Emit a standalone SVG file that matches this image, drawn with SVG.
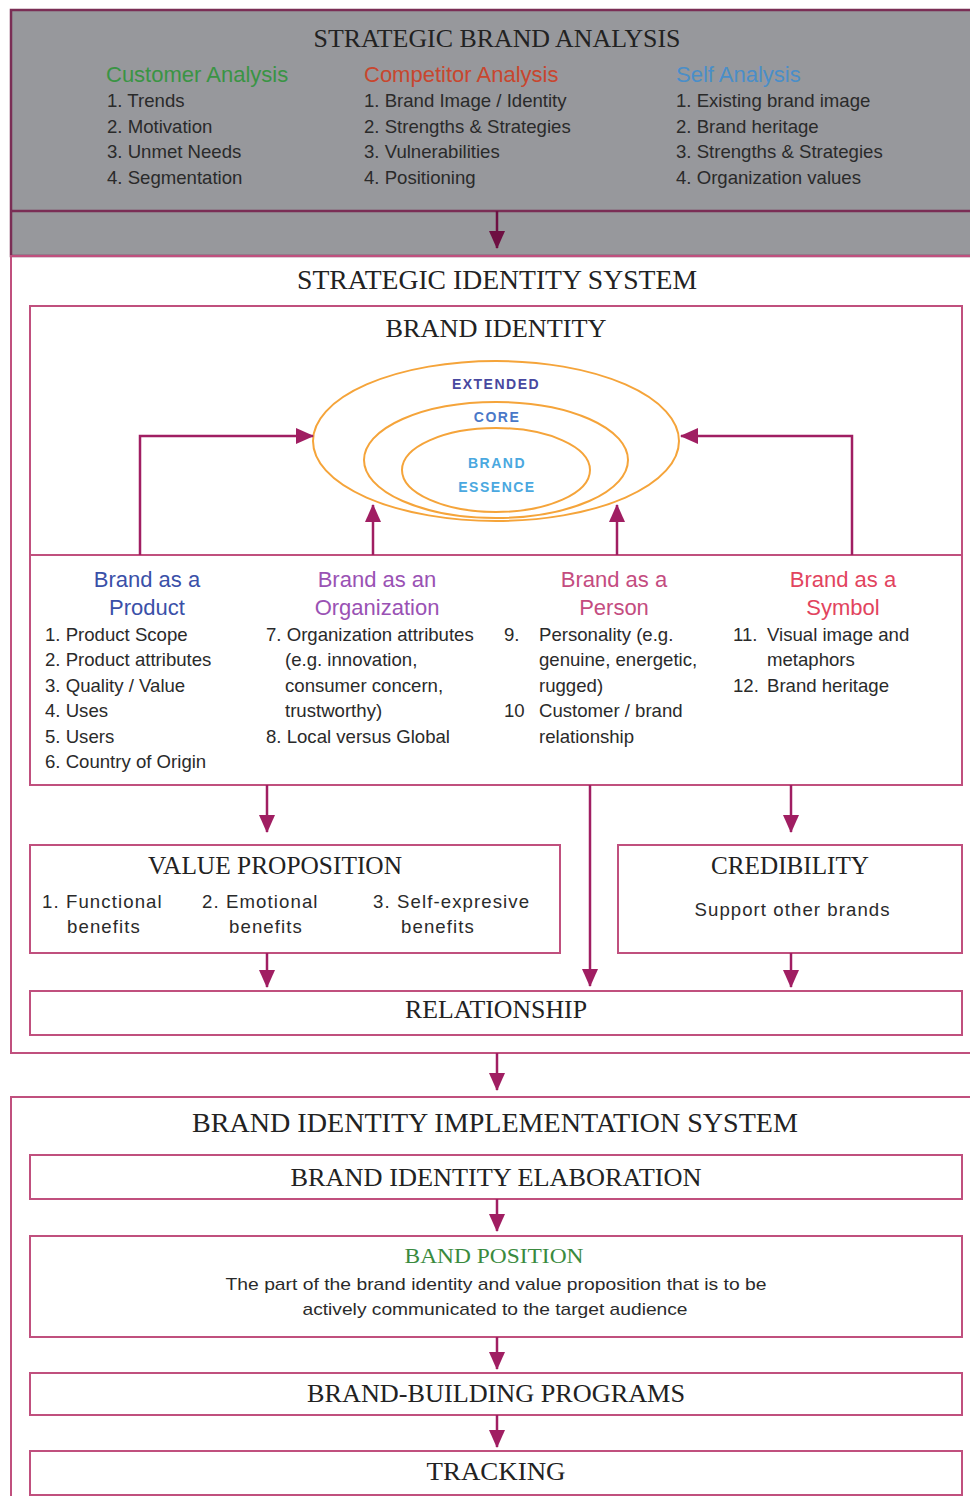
<svg xmlns="http://www.w3.org/2000/svg" width="970" height="1496" viewBox="0 0 970 1496">
<style>
.box{fill:none;stroke:#c0507e;stroke-width:2}
.hd{font-family:"Liberation Serif",serif;fill:#222;text-anchor:middle}
.li{font-family:"Liberation Sans",Arial,sans-serif;font-size:18.6px;fill:#2a2a2a}
.an{font-family:"Liberation Sans",Arial,sans-serif;font-size:22px}
.cat{font-family:"Liberation Sans",Arial,sans-serif;font-size:22px;text-anchor:middle}
.el{font-family:"Liberation Sans",Arial,sans-serif;font-size:14px;font-weight:bold;text-anchor:middle;letter-spacing:1.5px}
.con{fill:none;stroke:#a01e62;stroke-width:2.5}
.ring{fill:none;stroke:#f5a43a;stroke-width:2}
</style>
<defs>
<marker id="ah" viewBox="0 0 18 16" refX="17" refY="8" markerWidth="18" markerHeight="16" markerUnits="userSpaceOnUse" orient="auto">
<path d="M0,0 L18,8 L0,16 z" fill="#a01e62"/>
</marker>
<marker id="ahd" viewBox="0 0 18 16" refX="17" refY="8" markerWidth="18" markerHeight="16" markerUnits="userSpaceOnUse" orient="auto">
<path d="M0,0 L18,8 L0,16 z" fill="#6e0f42"/>
</marker>
</defs>
<rect width="970" height="1496" fill="#fff"/>

<g id="strategic-brand-analysis">
<rect x="11" y="10" width="970" height="246" fill="#97989c" stroke="#7a2e55" stroke-width="2.5"/>
<line x1="11" y1="211" x2="970" y2="211" stroke="#7a2e55" stroke-width="2.5"/>
<text class="hd" x="497" y="47" font-size="26" textLength="367" lengthAdjust="spacingAndGlyphs">STRATEGIC BRAND ANALYSIS</text>
<text class="an" x="106" y="82" style="fill:#3a9444">Customer Analysis</text>
<text class="li" x="107" y="107">1. Trends</text>
<text class="li" x="107" y="133">2. Motivation</text>
<text class="li" x="107" y="158">3. Unmet Needs</text>
<text class="li" x="107" y="184">4. Segmentation</text>
<text class="an" x="364" y="82" style="fill:#c8462e">Competitor Analysis</text>
<text class="li" x="364" y="107">1. Brand Image / Identity</text>
<text class="li" x="364" y="133">2. Strengths &amp; Strategies</text>
<text class="li" x="364" y="158">3. Vulnerabilities</text>
<text class="li" x="364" y="184">4. Positioning</text>
<text class="an" x="676" y="82" style="fill:#4a8ec8">Self Analysis</text>
<text class="li" x="676" y="107">1. Existing brand image</text>
<text class="li" x="676" y="133">2. Brand heritage</text>
<text class="li" x="676" y="158">3. Strengths &amp; Strategies</text>
<text class="li" x="676" y="184">4. Organization values</text>
</g>

<g id="strategic-identity-system">
<rect class="box" x="11" y="256" width="970" height="797"/>
<text class="hd" x="497" y="289" font-size="27" textLength="400" lengthAdjust="spacingAndGlyphs">STRATEGIC IDENTITY SYSTEM</text>
</g>

<g id="brand-identity">
<rect class="box" x="30" y="306" width="932" height="479"/>
<line class="box" x1="30" y1="555" x2="962" y2="555"/>
<text class="hd" x="496" y="337" font-size="26" textLength="221" lengthAdjust="spacingAndGlyphs">BRAND IDENTITY</text>
<ellipse class="ring" cx="496" cy="441" rx="183" ry="80"/>
<ellipse class="ring" cx="496" cy="460" rx="132" ry="58"/>
<ellipse class="ring" cx="496" cy="470" rx="94" ry="42"/>
<text class="el" x="496" y="389" style="fill:#4848a0">EXTENDED</text>
<text class="el" x="497" y="422" style="fill:#4a78c8">CORE</text>
<text class="el" x="497" y="468" style="fill:#4aa8e0">BRAND</text>
<text class="el" x="497" y="492" style="fill:#4aa8e0">ESSENCE</text>
</g>

<g id="brand-as-product">
<text class="cat" x="147" y="587" style="fill:#3a50a8">Brand as a</text>
<text class="cat" x="147" y="615" style="fill:#3a50a8">Product</text>
<text class="li" x="45" y="641">1. Product Scope</text>
<text class="li" x="45" y="666">2. Product attributes</text>
<text class="li" x="45" y="692">3. Quality / Value</text>
<text class="li" x="45" y="717">4. Uses</text>
<text class="li" x="45" y="743">5. Users</text>
<text class="li" x="45" y="768">6. Country of Origin</text>
</g>

<g id="brand-as-organization">
<text class="cat" x="377" y="587" style="fill:#9a52b4">Brand as an</text>
<text class="cat" x="377" y="615" style="fill:#9a52b4">Organization</text>
<text class="li" x="266" y="641">7. Organization attributes</text>
<text class="li" x="285" y="666">(e.g. innovation,</text>
<text class="li" x="285" y="692">consumer concern,</text>
<text class="li" x="285" y="717">trustworthy)</text>
<text class="li" x="266" y="743">8. Local versus Global</text>
</g>

<g id="brand-as-person">
<text class="cat" x="614" y="587" style="fill:#c44c80">Brand as a</text>
<text class="cat" x="614" y="615" style="fill:#c44c80">Person</text>
<text class="li" x="504" y="641">9.</text>
<text class="li" x="539" y="641">Personality (e.g.</text>
<text class="li" x="539" y="666">genuine, energetic,</text>
<text class="li" x="539" y="692">rugged)</text>
<text class="li" x="504" y="717">10</text>
<text class="li" x="539" y="717">Customer / brand</text>
<text class="li" x="539" y="743">relationship</text>
</g>

<g id="brand-as-symbol">
<text class="cat" x="843" y="587" style="fill:#e2445e">Brand as a</text>
<text class="cat" x="843" y="615" style="fill:#e2445e">Symbol</text>
<text class="li" x="733" y="641">11.</text>
<text class="li" x="767" y="641">Visual image and</text>
<text class="li" x="767" y="666">metaphors</text>
<text class="li" x="733" y="692">12.</text>
<text class="li" x="767" y="692">Brand heritage</text>
</g>

<g id="value-proposition">
<rect class="box" x="30" y="845" width="530" height="108"/>
<text class="hd" x="275" y="874" font-size="26" textLength="254" lengthAdjust="spacingAndGlyphs">VALUE PROPOSITION</text>
<text class="li" x="42" y="908" letter-spacing="1.1">1. Functional</text>
<text class="li" x="67" y="933" letter-spacing="1.1">benefits</text>
<text class="li" x="202" y="908" letter-spacing="1.1">2. Emotional</text>
<text class="li" x="229" y="933" letter-spacing="1.1">benefits</text>
<text class="li" x="373" y="908" letter-spacing="1.1">3. Self-expresive</text>
<text class="li" x="401" y="933" letter-spacing="1.1">benefits</text>
</g>

<g id="credibility">
<rect class="box" x="618" y="845" width="344" height="108"/>
<text class="hd" x="790" y="874" font-size="26" textLength="158" lengthAdjust="spacingAndGlyphs">CREDIBILITY</text>
<text class="li" x="792" y="916" text-anchor="middle" textLength="195" lengthAdjust="spacing">Support other brands</text>
</g>

<g id="relationship">
<rect class="box" x="30" y="991" width="932" height="44"/>
<text class="hd" x="496" y="1018" font-size="25" textLength="182" lengthAdjust="spacingAndGlyphs">RELATIONSHIP</text>
</g>

<g id="implementation-system">
<rect class="box" x="11" y="1097" width="970" height="420"/>
<text class="hd" x="495" y="1132" font-size="27" textLength="606" lengthAdjust="spacingAndGlyphs">BRAND IDENTITY IMPLEMENTATION SYSTEM</text>
</g>

<g id="brand-identity-elaboration">
<rect class="box" x="30" y="1155" width="932" height="44"/>
<text class="hd" x="496" y="1186" font-size="26" textLength="411" lengthAdjust="spacingAndGlyphs">BRAND IDENTITY ELABORATION</text>
</g>

<g id="band-position">
<rect class="box" x="30" y="1236" width="932" height="101"/>
<text class="hd" x="494" y="1263" font-size="22" style="fill:#3a8a3e" textLength="179" lengthAdjust="spacingAndGlyphs">BAND POSITION</text>
<text class="li" x="496" y="1290" text-anchor="middle" style="font-size:17px" textLength="541" lengthAdjust="spacingAndGlyphs">The part of the brand identity and value proposition that is to be</text>
<text class="li" x="495" y="1315" text-anchor="middle" style="font-size:17px" textLength="385" lengthAdjust="spacingAndGlyphs">actively communicated to the target audience</text>
</g>

<g id="brand-building-programs">
<rect class="box" x="30" y="1373" width="932" height="42"/>
<text class="hd" x="496" y="1402" font-size="26" textLength="378" lengthAdjust="spacingAndGlyphs">BRAND-BUILDING PROGRAMS</text>
</g>

<g id="tracking">
<rect class="box" x="30" y="1451" width="932" height="44"/>
<text class="hd" x="496" y="1480" font-size="26" textLength="139" lengthAdjust="spacingAndGlyphs">TRACKING</text>
</g>

<g id="connectors">
<path d="M497,211 V248" fill="none" stroke="#6e0f42" stroke-width="2.5" marker-end="url(#ahd)"/>
<path class="con" d="M140,555 V436 H313" marker-end="url(#ah)"/>
<path class="con" d="M852,555 V436 H681" marker-end="url(#ah)"/>
<path class="con" d="M373,555 V505" marker-end="url(#ah)"/>
<path class="con" d="M617,555 V505" marker-end="url(#ah)"/>
<path class="con" d="M267,785 V832" marker-end="url(#ah)"/>
<path class="con" d="M590,785 V986" marker-end="url(#ah)"/>
<path class="con" d="M791,785 V832" marker-end="url(#ah)"/>
<path class="con" d="M267,953 V987" marker-end="url(#ah)"/>
<path class="con" d="M791,953 V987" marker-end="url(#ah)"/>
<path class="con" d="M497,1053 V1090" marker-end="url(#ah)"/>
<path class="con" d="M497,1199 V1231" marker-end="url(#ah)"/>
<path class="con" d="M497,1337 V1369" marker-end="url(#ah)"/>
<path class="con" d="M497,1415 V1447" marker-end="url(#ah)"/>
</g>
</svg>
